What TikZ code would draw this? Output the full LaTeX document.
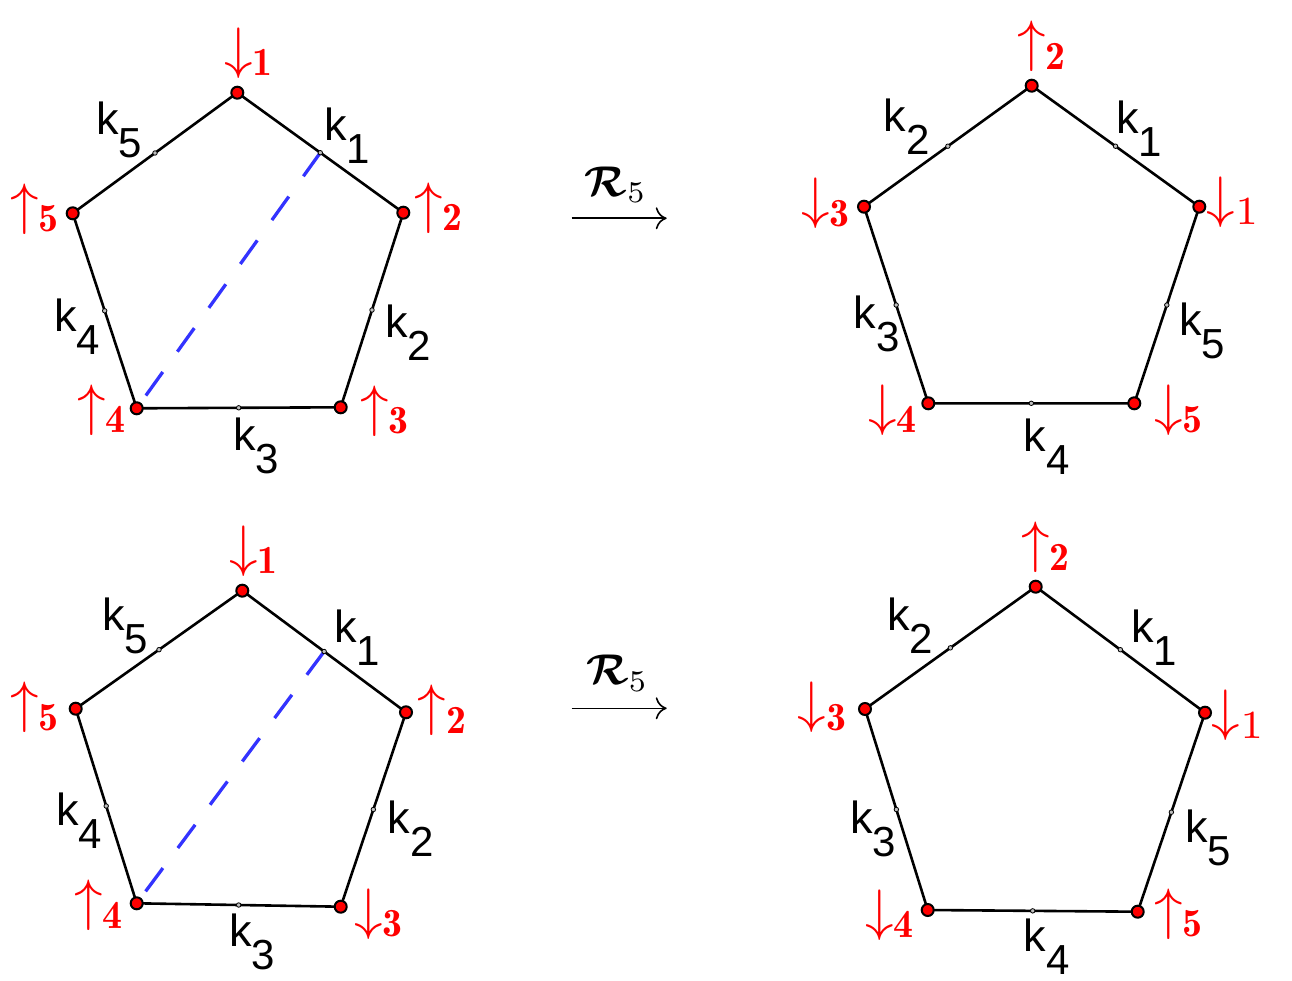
\documentclass[tikz,border=0pt]{standalone}
\usepackage{fontspec}
\usepackage{bm}
\newfontfamily\arialf{Liberation Sans}
\usetikzlibrary{calc,arrows.meta}
\definecolor{dashblue}{RGB}{51,51,255}
\tikzset{
  edge/.style={line width=2.6pt, draw=black},
  diag/.style={line width=3.3pt, draw=dashblue, dash pattern=on 29pt off 25pt},
  vert/.style={circle, draw=black, fill=red, line width=2pt, minimum size=12pt, inner sep=0pt},
  midpt/.style={circle, draw=black, fill=gray!50, line width=0.8pt, minimum size=4.5pt, inner sep=0pt},
  klab/.style={inner sep=0pt, font=\arialf\fontsize{45}{45}\selectfont},
  rlab/.style={inner sep=0pt, text=red, font=\fontsize{10}{12}\selectfont},
  maplab/.style={inner sep=0pt, font=\fontsize{10}{12}\selectfont},
  maparrow/.style={line width=1.6pt, -{Computer Modern Rightarrow[length=11pt,width=22pt]}},
}
\newcommand{\kk}[1]{k\raisebox{-23pt}{\fontsize{42}{42}\selectfont #1}}
\newcommand{\rl}[1]{\scalebox{5.7}{$#1$}}
% #1 prefix, #2 top, #3 upper right, #4 lower right, #5 lower left, #6 upper left
\newcommand{\pentpath}[6]{%
  \coordinate (#1T) at (#2);
  \coordinate (#1UR) at (#3);
  \coordinate (#1LR) at (#4);
  \coordinate (#1LL) at (#5);
  \coordinate (#1UL) at (#6);
  \draw[edge] (#1T) -- (#1UR) -- (#1LR) -- (#1LL) -- (#1UL) -- cycle;
  \coordinate (#1m1) at ($(#1T)!0.5!(#1UR)$);
  \coordinate (#1m2) at ($(#1UR)!0.5!(#1LR)$);
  \coordinate (#1m3) at ($(#1LR)!0.5!(#1LL)$);
  \coordinate (#1m4) at ($(#1LL)!0.5!(#1UL)$);
  \coordinate (#1m5) at ($(#1UL)!0.5!(#1T)$);
}
\newcommand{\pentdots}[1]{%
  \node[midpt] (#1n1) at (#1m1) {};
  \node[midpt] (#1n2) at (#1m2) {};
  \node[midpt] (#1n3) at (#1m3) {};
  \node[midpt] (#1n4) at (#1m4) {};
  \node[midpt] (#1n5) at (#1m5) {};
  \node[vert] (#1vT) at (#1T) {};
  \node[vert] (#1vUR) at (#1UR) {};
  \node[vert] (#1vLR) at (#1LR) {};
  \node[vert] (#1vLL) at (#1LL) {};
  \node[vert] (#1vUL) at (#1UL) {};
}
\begin{document}
\begin{tikzpicture}[x=1pt,y=-1pt]
\useasboundingbox (0,0) rectangle (1292,981);

% ---------- top left ----------
\pentpath{a}{237.3,92.7}{403.3,212.7}{340.7,407.3}{136.7,408.3}{72.7,213.3}
\draw[diag] (am1) -- (aLL);
\pentdots{a}
\node[rlab] (ar1) at (250,53) {\rl{\downarrow_{\mathbf{1}}}};
\node[rlab] (ar2) at (440,208) {\rl{\uparrow_{\mathbf{2}}}};
\node[rlab] (ar3) at (386,411) {\rl{\uparrow_{\mathbf{3}}}};
\node[rlab] (ar4) at (103,410) {\rl{\uparrow_{\mathbf{4}}}};
\node[rlab] (ar5) at (36,209) {\rl{\uparrow_{\mathbf{5}}}};
\node[klab] (ak1) at (347,136) {\kk{1}};
\node[klab] (ak2) at (408,333) {\kk{2}};
\node[klab] (ak3) at (256,446) {\kk{3}};
\node[klab] (ak4) at (77,327) {\kk{4}};
\node[klab] (ak5) at (119,130) {\kk{5}};

% ---------- top right ----------
\pentpath{b}{1031.7,85.7}{1199.3,206.7}{1134.3,403.3}{928.3,403.3}{864,206.7}
\pentdots{b}
\node[rlab] (br2) at (1043,46.5) {\rl{\uparrow_{\mathbf{2}}}};
\node[rlab] (br1) at (1234,202) {\rl{\downarrow_{1}}};
\node[rlab] (br3) at (826.7,203.3) {\rl{\downarrow_{\mathbf{3}}}};
\node[rlab] (br4) at (894,410) {\rl{\downarrow_{\mathbf{4}}}};
\node[rlab] (br5) at (1180,410) {\rl{\downarrow_{\mathbf{5}}}};
\node[klab] (bk2) at (906.7,126.7) {\kk{2}};
\node[klab] (bk1) at (1139,129) {\kk{1}};
\node[klab] (bk3) at (876.7,324) {\kk{3}};
\node[klab] (bk5) at (1202,330.7) {\kk{5}};
\node[klab] (bk4) at (1046.7,446.7) {\kk{4}};

% ---------- bottom left ----------
\pentpath{c}{242.3,590.7}{406,712.3}{340.7,906.7}{136.7,903.3}{75.7,708.7}
\draw[diag] (cm1) -- (cLL);
\pentdots{c}
\node[rlab] (cr1) at (255,551) {\rl{\downarrow_{\mathbf{1}}}};
\node[rlab] (cr2) at (443.3,710.7) {\rl{\uparrow_{\mathbf{2}}}};
\node[rlab] (cr3) at (380,914) {\rl{\downarrow_{\mathbf{3}}}};
\node[rlab] (cr4) at (100,905.7) {\rl{\uparrow_{\mathbf{4}}}};
\node[rlab] (cr5) at (35.7,707.3) {\rl{\uparrow_{\mathbf{5}}}};
\node[klab] (ck5) at (125,625.7) {\kk{5}};
\node[klab] (ck1) at (357.3,637.3) {\kk{1}};
\node[klab] (ck2) at (410.7,829) {\kk{2}};
\node[klab] (ck3) at (252.3,941.7) {\kk{3}};
\node[klab] (ck4) at (79,820.7) {\kk{4}};

% ---------- bottom right ----------
\pentpath{d}{1035.7,586.7}{1205,712.7}{1137.7,911.7}{927.7,910}{865,709}
\pentdots{d}
\node[rlab] (dr2) at (1047,547.5) {\rl{\uparrow_{\mathbf{2}}}};
\node[rlab] (dr1) at (1239,715.7) {\rl{\downarrow_{1}}};
\node[rlab] (dr3) at (823.3,707.3) {\rl{\downarrow_{\mathbf{3}}}};
\node[rlab] (dr4) at (890.7,915) {\rl{\downarrow_{\mathbf{4}}}};
\node[rlab] (dr5) at (1180,914) {\rl{\uparrow_{\mathbf{5}}}};
\node[klab] (dk2) at (910,625.7) {\kk{2}};
\node[klab] (dk1) at (1154,637.3) {\kk{1}};
\node[klab] (dk3) at (873.3,829) {\kk{3}};
\node[klab] (dk5) at (1208.3,838.3) {\kk{5}};
\node[klab] (dk4) at (1046.7,947) {\kk{4}};

% ---------- maps ----------
\coordinate (m1s) at (571.7,218.3);
\coordinate (m1e) at (666.7,218.3);
\draw[maparrow] (m1s) -- (m1e);
\node[maplab] (m1l) at (615.7,185) {\scalebox{4.3}{$\bm{\mathcal{R}}_5$}};
\coordinate (m2s) at (571.7,708.3);
\coordinate (m2e) at (666.7,708.3);
\draw[maparrow] (m2s) -- (m2e);
\node[maplab] (m2l) at (617.3,673.3) {\scalebox{4.3}{$\bm{\mathcal{R}}_5$}};
\end{tikzpicture}
\end{document}
